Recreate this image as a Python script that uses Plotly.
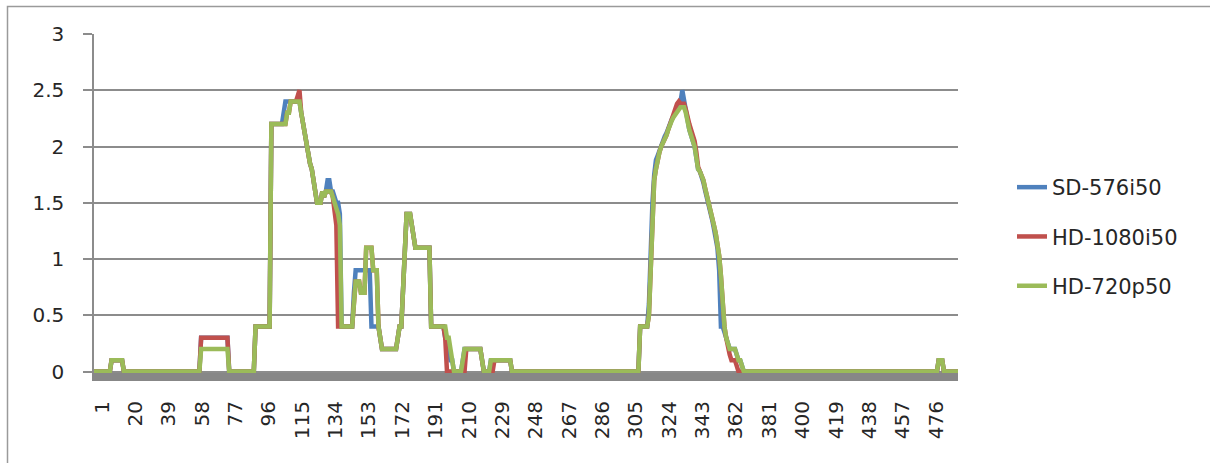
import plotly.graph_objects as go

# ---------------- data ----------------
series_names = ["SD-576i50", "HD-1080i50", "HD-720p50"]
series_colors = ["#4F81BD", "#C0504D", "#9BBB59"]

categories = list(range(1, 494))          # category axis 1 .. 493
x_tick_labels = [1, 20, 39, 58, 77, 96, 115, 134, 153, 172, 191, 210, 229,
                 248, 267, 286, 305, 324, 343, 362, 381, 400, 419, 438, 457, 476]
y_tick_values = [0, 0.5, 1, 1.5, 2, 2.5, 3]
y_tick_labels = ["0", "0.5", "1", "1.5", "2", "2.5", "3"]

# values stored as runs: (value, number of consecutive categories)
sd_576i50_runs = [
    (0, 10), (0.1, 7), (0, 44), (0.3, 16), (0, 15), (0.4, 9),
    (2.2, 7), (2.3, 1), (2.4, 9),
    (2.3, 1), (2.2, 1), (2.1, 1), (2.0, 1), (1.9, 1), (1.85, 1), (1.8, 1), (1.7, 1), (1.6, 1),
    (1.5, 3), (1.6, 1), (1.55, 1), (1.6, 1), (1.7, 2), (1.6, 2), (1.55, 1), (1.5, 2), (1.4, 1),
    (0.4, 7), (0.7, 1), (0.9, 9), (0.4, 5), (0.3, 1),
    (0.2, 9), (0.3, 1), (0.4, 2), (0.8, 1), (1.1, 1), (1.4, 3), (1.3, 1), (1.2, 1), (1.1, 9),
    (0.4, 8), (0.3, 2), (0.2, 1), (0.1, 2), (0, 5), (0.1, 1), (0.2, 10), (0.1, 1), (0, 4), (0.1, 12),
    (0, 73), (0.4, 5),
    (0.6, 1), (1.1, 1), (1.5, 1), (1.75, 1), (1.88, 1), (1.92, 1), (1.97, 1), (2.0, 1), (2.05, 1),
    (2.09, 1), (2.12, 1), (2.17, 1), (2.21, 1), (2.24, 1), (2.27, 1), (2.3, 1), (2.33, 1), (2.36, 1),
    (2.4, 1), (2.5, 1), (2.4, 1),
    (2.3, 1), (2.2, 1), (2.15, 1), (2.1, 1), (2.05, 1), (2.0, 1), (1.9, 1), (1.8, 1), (1.78, 1),
    (1.74, 1), (1.68, 1), (1.61, 1), (1.55, 1), (1.48, 1), (1.43, 1), (1.35, 1), (1.27, 1), (1.2, 1),
    (1.1, 1), (0.9, 1), (0.4, 1), (0.4, 1), (0.35, 1), (0.3, 1),
    (0.25, 1), (0.2, 4), (0.15, 1), (0.1, 2), (0.05, 1), (0, 111), (0.1, 3), (0, 9),
]

hd_1080i50_runs = [
    (0, 10), (0.1, 7), (0, 44), (0.3, 16), (0, 15), (0.4, 9),
    (2.2, 9), (2.3, 2), (2.4, 4), (2.45, 1), (2.5, 1),
    (2.3, 1), (2.2, 1), (2.1, 1), (2.0, 1), (1.9, 1), (1.85, 1), (1.8, 1), (1.7, 1), (1.6, 1),
    (1.5, 3), (1.6, 1), (1.55, 1), (1.6, 4), (1.55, 1), (1.45, 1), (1.3, 1),
    (0.4, 9), (0.6, 1), (0.8, 3), (0.7, 3), (1.1, 4), (0.9, 3), (0.4, 1), (0.3, 1),
    (0.2, 9), (0.3, 1), (0.4, 2), (0.8, 1), (1.1, 1), (1.4, 3), (1.3, 1), (1.2, 1), (1.1, 9),
    (0.4, 8), (0.3, 1), (0, 11), (0.2, 9), (0.1, 1), (0, 6), (0.1, 10),
    (0, 73), (0.4, 5),
    (0.5, 1), (1.0, 1), (1.45, 1), (1.7, 1), (1.8, 1), (1.9, 1), (1.95, 1), (2.0, 1), (2.03, 1),
    (2.07, 1), (2.1, 1), (2.15, 1), (2.2, 1), (2.24, 1), (2.28, 1), (2.32, 1), (2.38, 1), (2.4, 1),
    (2.38, 3),
    (2.33, 1), (2.25, 1), (2.2, 1), (2.15, 1), (2.1, 1), (2.05, 1), (1.95, 1), (1.82, 1), (1.78, 1),
    (1.75, 1), (1.7, 1), (1.63, 1), (1.57, 1), (1.5, 1), (1.45, 1), (1.38, 1), (1.3, 1), (1.23, 1),
    (1.15, 1), (1.03, 1), (0.85, 1), (0.6, 1), (0.4, 1), (0.3, 1), (0.2, 1),
    (0.15, 1), (0.1, 3), (0.05, 1), (0, 114), (0.1, 3), (0, 9),
]

hd_720p50_runs = [
    (0, 10), (0.1, 7), (0, 44), (0.2, 16), (0, 15), (0.4, 9),
    (2.2, 9), (2.3, 2), (2.4, 6),
    (2.3, 1), (2.2, 1), (2.1, 1), (2.0, 1), (1.9, 1), (1.85, 1), (1.8, 1), (1.7, 1), (1.6, 1),
    (1.5, 3), (1.6, 1), (1.55, 1), (1.6, 4), (1.55, 1), (1.5, 1), (1.45, 1), (1.4, 1), (1.3, 1),
    (0.4, 7), (0.6, 1), (0.8, 3), (0.7, 3), (1.1, 4), (0.9, 3), (0.4, 1), (0.3, 1),
    (0.2, 9), (0.3, 1), (0.4, 2), (0.8, 1), (1.1, 1), (1.4, 3), (1.3, 1), (1.2, 1), (1.1, 9),
    (0.4, 9), (0.3, 2), (0.2, 1), (0.1, 1), (0, 5), (0.1, 1), (0.2, 10), (0.1, 1), (0, 4), (0.1, 12),
    (0, 73), (0.4, 5),
    (0.5, 1), (1.0, 1), (1.45, 1), (1.7, 1), (1.8, 1), (1.9, 1), (1.95, 1), (2.0, 1), (2.03, 1),
    (2.07, 1), (2.1, 1), (2.15, 1), (2.2, 1), (2.23, 1), (2.26, 1), (2.28, 1), (2.3, 1), (2.32, 1),
    (2.35, 3),
    (2.3, 1), (2.2, 1), (2.15, 1), (2.1, 1), (2.05, 1), (2.0, 1), (1.9, 1), (1.8, 1), (1.78, 1),
    (1.75, 1), (1.7, 1), (1.63, 1), (1.57, 1), (1.5, 1), (1.45, 1), (1.38, 1), (1.3, 1), (1.23, 1),
    (1.15, 1), (1.03, 1), (0.85, 1), (0.6, 1), (0.4, 1), (0.3, 1), (0.25, 1),
    (0.2, 4), (0.15, 1), (0.1, 2), (0.05, 1), (0, 111), (0.1, 3), (0, 9),
]


def expand(runs):
    out = []
    for value, count in runs:
        out.extend([value] * count)
    return out


series_values = [expand(sd_576i50_runs), expand(hd_1080i50_runs), expand(hd_720p50_runs)]

# ---------------- figure ----------------
FONT = "DejaVu Sans"
TEXT_COLOR = "#262626"
GRID_COLOR = "#8c8c8c"

fig = go.Figure()
for name, color, vals in zip(series_names, series_colors, series_values):
    fig.add_trace(go.Scatter(
        x=categories[:len(vals)], y=vals, name=name, mode="lines",
        line=dict(color=color, width=4.5),
        legendgroup=name,
    ))

L, R, T, B = 94, 252, 34, 90
W, H = 1210, 463
pw, ph = W - L - R, H - T - B

fig.update_layout(
    width=W, height=H,
    margin=dict(l=L, r=R, t=T, b=B, autoexpand=False),
    paper_bgcolor="white", plot_bgcolor="white",
    font=dict(family=FONT, size=20, color=TEXT_COLOR),
    xaxis=dict(
        range=[1, 493], tickmode="array", tickvals=x_tick_labels,
        ticktext=[str(v) for v in x_tick_labels], tickangle=-90,
        showgrid=False, zeroline=False, showline=True, linewidth=8,
        linecolor="#878787", ticks="", ticklabelshift=8, ticklabelstandoff=12,
        tickfont=dict(family=FONT, size=20, color=TEXT_COLOR),
        automargin=False,
    ),
    yaxis=dict(
        range=[-0.013, 3], tickmode="array", tickvals=y_tick_values,
        ticktext=y_tick_labels, showgrid=True, gridcolor=GRID_COLOR, gridwidth=1.5,
        zeroline=False, showline=True, linewidth=1.5, linecolor=GRID_COLOR,
        ticks="outside", ticklen=9, tickwidth=1.5, tickcolor=GRID_COLOR,
        ticklabelstandoff=15,
        tickfont=dict(family=FONT, size=20, color=TEXT_COLOR),
        automargin=False,
    ),
    legend=dict(
        x=(1012 - L) / pw, y=(H - B - 167) / ph, xanchor="left", yanchor="top",
        font=dict(family=FONT, size=21, color=TEXT_COLOR),
        tracegroupgap=19, bgcolor="rgba(0,0,0,0)", borderwidth=0,
    ),
    showlegend=True,
)

# outer chart-area border (only left and top are inside the picture)
fig.add_shape(
    type="rect", xref="paper", yref="paper",
    x0=(7.5 - L) / pw, x1=(1220 - L) / pw,
    y0=(H - B - 475) / ph, y1=(H - B - 6.5) / ph,
    line=dict(color="#9a9a9a", width=1.5), fillcolor="rgba(0,0,0,0)", layer="below",
)

fig.write_html("out.html", config={"displayModeBar": False},
               post_script="document.body.style.margin='0';")
